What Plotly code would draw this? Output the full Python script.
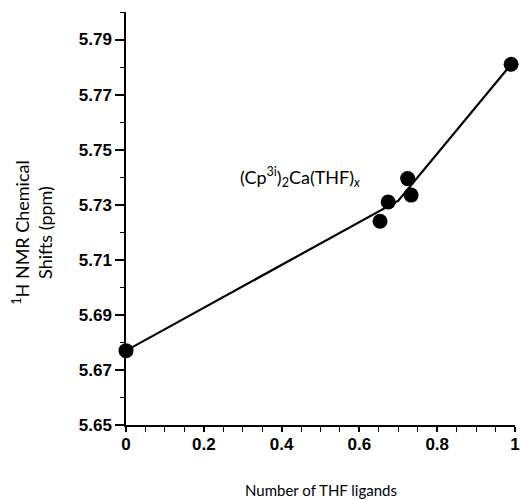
import plotly.graph_objects as go

# Data points (number of THF ligands, 1H NMR chemical shift ppm)
thf_ligands = [0.0, 0.653, 0.674, 0.724, 0.733, 0.99]
chem_shift = [5.677, 5.724, 5.731, 5.7395, 5.7335, 5.781]

# Fitted piecewise line
fit_x = [0.0, 0.70, 0.99]
fit_y = [5.677, 5.7315, 5.781]

x_tick_vals = [0, 0.2, 0.4, 0.6, 0.8, 1]
x_tick_text = ["0", "0.2", "0.4", "0.6", "0.8", "1"]
y_tick_vals = [5.65, 5.67, 5.69, 5.71, 5.73, 5.75, 5.77, 5.79]
y_tick_text = ["5.65", "5.67", "5.69", "5.71", "5.73", "5.75", "5.77", "5.79"]

fig = go.Figure()
fig.add_trace(go.Scatter(x=fit_x, y=fit_y, mode="lines",
                         line=dict(color="black", width=2.2),
                         showlegend=False, cliponaxis=False))
fig.add_trace(go.Scatter(x=thf_ligands, y=chem_shift, mode="markers",
                         marker=dict(color="black", size=15),
                         showlegend=False, cliponaxis=False))

tickfont = dict(family="Liberation Sans, Arial", size=17, color="black", weight="bold")

fig.update_layout(
    width=520, height=500,
    margin=dict(l=126, r=5, t=12, b=75),
    plot_bgcolor="white", paper_bgcolor="white",
    xaxis=dict(range=[0, 1], showgrid=False, zeroline=False, automargin=False,
               showline=True, linecolor="black", linewidth=1.5,
               ticks="outside", ticklen=5, tickwidth=1.5, tickcolor="black",
               tickvals=x_tick_vals, ticktext=x_tick_text, tickfont=tickfont,
               ticklabeloverflow="allow", ticklabelstandoff=-2,
               minor=dict(dtick=0.05, tick0=0, ticks="outside", ticklen=5,
                          tickwidth=1.2, tickcolor="black", showgrid=False)),
    yaxis=dict(range=[5.65, 5.80], showgrid=False, zeroline=False, automargin=False,
               showline=True, linecolor="black", linewidth=1.5,
               ticks="outside", ticklen=9, tickwidth=1.5, tickcolor="black",
               tickvals=y_tick_vals, ticktext=y_tick_text, tickfont=tickfont,
               minor=dict(dtick=0.01, tick0=5.65, ticks="outside", ticklen=4,
                          tickwidth=1.2, tickcolor="black", showgrid=False)),
    annotations=[
        dict(x=0.288, y=5.740, xref="x", yref="y",
             text="(Cp<sup>3i</sup>)<sub>2</sub>Ca(THF)<sub><i>x</i></sub>",
             showarrow=False, xanchor="left", yanchor="middle",
             font=dict(family="Lato, Open Sans", size=18, color="black")),
        dict(x=0.5, y=-0.157, xref="paper", yref="paper",
             text="Number of THF ligands", showarrow=False,
             xanchor="center", yanchor="middle",
             font=dict(family="Lato, Open Sans", size=15, color="black")),
        dict(x=-0.24, y=0.467, xref="paper", yref="paper",
             text="<sup>1</sup>H NMR Chemical<br>Shifts (ppm)", showarrow=False,
             textangle=-90, xanchor="center", yanchor="middle",
             font=dict(family="Lato, Open Sans", size=18, color="black")),
    ],
)

# Remove the browser's default 8px body margin so the figure fills the window exactly.
fig.write_html("out.html", config={"displayModeBar": False},
               post_script="document.body.style.margin='0';document.body.style.overflow='hidden';")
